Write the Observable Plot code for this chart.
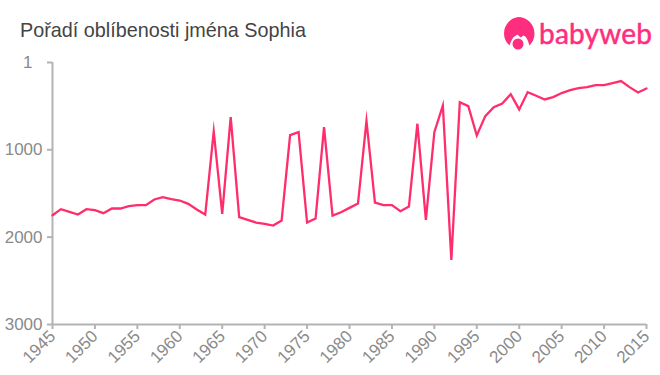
<!DOCTYPE html>
<html>
<head>
<meta charset="utf-8">
<script src="https://cdn.jsdelivr.net/npm/d3@7"></script>
<script src="https://cdn.jsdelivr.net/npm/@observablehq/plot@0.6"></script>
<style>
html,body{margin:0;padding:0;background:#fff;}
#wrap{position:relative;width:660px;height:375px;overflow:hidden;font-family:"Liberation Sans",Arial,sans-serif;}
#title{position:absolute;left:20px;top:19px;font-size:19.8px;line-height:22px;color:#444;}
#logo{position:absolute;left:500px;top:14px;}
#chart{position:absolute;left:0;top:0;}
</style>
</head>
<body>
<div id="wrap">
<div id="chart"></div>
<div id="title">Pořadí oblíbenosti jména Sophia</div>
<svg id="logo" width="160" height="40" viewBox="0 0 160 40">
  <path d="M18 3a16.500 16.500 0 0 1 16.500 16.500c0 5-2 9-5 12-1.500-5-3-9-6-10l-3 2-3-3-3 2c-2 1-3.500 5-5 9-3.500-3-5.500-7-5.500-12A16.500 16.500 0 0 1 18 3z" fill="#ff2d7e"/>
  <circle cx="18" cy="30" r="5.500" fill="#ff2d7e"/>
  <text x="39" y="30" font-family="Lato,'Open Sans',sans-serif" font-size="28" font-weight="400" stroke="#ff2d7e" stroke-width="0.5" fill="#ff2d7e" textLength="113">babyweb</text>
</svg>
</div>
<script>
const years = d3.range(1945, 2016);
const ranks = [
  1749,1680,1710,1741,1680,1692,1726,1672,1672,1645,
  1634,1634,1569,1543,1565,1581,1619,1684,1741,790,
  1733,626,1772,1802,1833,1848,1867,1810,832,798,
  1833,1787,741,1753,1715,1665,1615,670,1604,1634,
  1634,1703,1650,702,1802,798,493,2260,455,500,
  836,615,512,470,363,538,340,382,424,397,
  351,317,294,283,260,260,237,214,283,344,298
];
const xTicks = d3.range(1945, 2016, 5);
const yTicks = [1000, 2000, 3000];
const yTop = [1];
const axisColor = "#b3b3b3";
const labelColor = "#8a8a8a";
const lineColor = "#ff2d6b";

const plot = Plot.plot({
  width: 660,
  height: 375,
  marginLeft: 52,
  marginRight: 14,
  marginTop: 62,
  marginBottom: 51,
  style: {fontFamily: '"Liberation Sans",Arial,sans-serif', background: "#fff", overflow: "visible"},
  x: {domain: [1945, 2015], label: null},
  y: {domain: [3000, 1], range: [324, 62], label: null},
  marks: [
    Plot.axisX({ticks: xTicks, tickFormat: d => String(d), tickRotate: -45, tickSize: 5, tickPadding: 4, stroke: axisColor, strokeWidth: 2, fill: labelColor, fontSize: 17, label: null}),
    Plot.axisY({ticks: yTicks, tickFormat: d => String(d), tickSize: 5, tickPadding: 5, stroke: axisColor, strokeWidth: 2, fill: labelColor, fontSize: 17, label: null}),
    Plot.axisY({ticks: yTop, tickFormat: d => String(d), tickSize: 5, tickPadding: 15, stroke: axisColor, strokeWidth: 2, fill: labelColor, fontSize: 17, label: null}),
    Plot.ruleX([1945], {stroke: axisColor, strokeWidth: 2}),
    Plot.ruleY([3000], {stroke: axisColor, strokeWidth: 2}),
    Plot.line(years.map((y, i) => ({year: y, rank: ranks[i]})), {x: "year", y: "rank", stroke: lineColor, strokeWidth: 2.3, strokeLinejoin: "miter", strokeMiterlimit: 10})
  ]
});
document.getElementById("chart").appendChild(plot);
</script>
</body>
</html>
